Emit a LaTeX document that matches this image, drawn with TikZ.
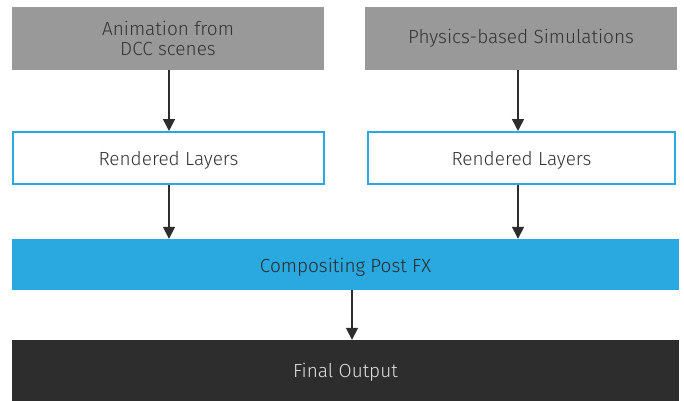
\documentclass[tikz,border=0pt]{standalone}
\usepackage{fontspec}
\setmainfont{Fira Sans}[UprightFont={* Light}]
\usetikzlibrary{arrows.meta,positioning}
\definecolor{srcgray}{HTML}{999999}
\definecolor{fxblue}{HTML}{29A9E0}
\definecolor{darkbox}{HTML}{2D2D2D}
\definecolor{txt}{HTML}{333333}
\newcommand{\lowertxt}[2]{\raisebox{-#1}[\height][\depth]{#2}}
\tikzset{
  base/.style={rectangle, inner sep=0pt, font=\fontsize{19}{19.5}\selectfont, align=center, text=txt},
  srcbox/.style={base, fill=srcgray, minimum width=312pt, minimum height=63pt},
  layerbox/.style={base, fill=white, draw=fxblue, line width=2pt, minimum height=52pt},
  fxbar/.style={base, fill=fxblue, text=txt!80!black, minimum width=667pt, minimum height=51pt},
  outbar/.style={base, fill=darkbox, text=white!88!black, minimum width=667pt, minimum height=64pt},
  arr/.style={draw=darkbox, line width=1.5pt, -{Triangle[length=12pt,width=12pt]}}
}
\begin{document}
\begin{tikzpicture}[x=1pt,y=-1pt]
\useasboundingbox[fill=white] (0,0) rectangle (684,400);
\node[srcbox] (a1) at (168,38.5) {Animation from\\DCC scenes};
\node[srcbox] (a2) at (521,38.5) {Physics-based Simulations};
\node[layerbox, minimum width=311pt] (r1) at (168.5,158) {\lowertxt{2pt}{Rendered Layers}};
\node[layerbox, minimum width=307pt] (r2) at (521.5,158) {\lowertxt{2pt}{Rendered Layers}};
\node[fxbar] (c) at (345.5,264.5) {\lowertxt{3pt}{Compositing Post FX}};
\node[outbar] (f) at (345.5,372) {Final Output};
\coordinate (l1) at (169,0);
\coordinate (l2) at (518,0);
\coordinate (lm) at (352,0);
\draw[arr] (a1.south -| l1) -- (r1.north -| l1);
\draw[arr] (a2.south -| l2) -- (r2.north -| l2);
\draw[arr] (r1.south -| l1) -- (c.north -| l1);
\draw[arr] (r2.south -| l2) -- (c.north -| l2);
\draw[arr] (c.south -| lm) -- (f.north -| lm);
\end{tikzpicture}
\end{document}
